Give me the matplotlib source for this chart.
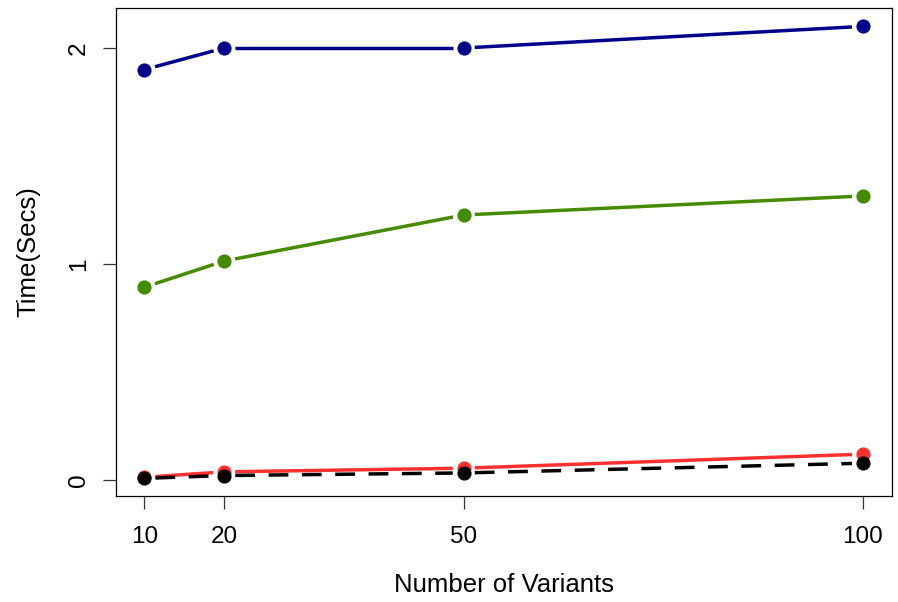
import matplotlib
matplotlib.use("Agg")
import matplotlib.pyplot as plt
import numpy as np

plt.rcParams['font.family'] = ['Liberation Sans', 'DejaVu Sans']

# data
variants = [10, 20, 50, 100]
time_blue = [1.90, 2.00, 2.00, 2.10]
time_green = [0.893, 1.014, 1.227, 1.315]
time_red = [0.013, 0.038, 0.055, 0.120]
time_black = [0.008, 0.021, 0.033, 0.078]

series = [
    (time_blue, '#00008B', '-'),
    (time_green, '#458B00', '-'),
    (time_red, '#FF3030', '-'),
    (time_black, 'black', (0, (5.7, 3.9))),
]

GAP = 11  # px between point centre and line end (R type="b")


def gapped_line(ax, xs, ys, color, ls):
    # draw each segment shortened at both ends, like R's type = "b"
    pts = ax.transData.transform(np.column_stack([xs, ys]))
    inv = ax.transData.inverted()
    for p0, p1 in zip(pts[:-1], pts[1:]):
        d = p1 - p0
        n = np.hypot(*d)
        if n <= 2 * GAP:
            continue
        u = d / n
        a = inv.transform(p0 + u * GAP)
        b = inv.transform(p1 - u * GAP)
        ax.plot([a[0], b[0]], [a[1], b[1]], color=color, linestyle=ls,
                linewidth=2.5, solid_capstyle='butt', dash_capstyle='butt')
    ax.plot(xs, ys, linestyle='none', marker='o', markersize=10.2,
            color=color, markeredgewidth=0)


fig = plt.figure(figsize=(8.98, 6.02), dpi=100)
ax = fig.add_axes([0.1288, 0.176, 0.993 - 0.1288, 0.9867 - 0.176])
ax.set_xlim(6.4, 103.6)
ax.set_ylim(-0.074, 2.185)

for ys, col, ls in series:
    gapped_line(ax, variants, ys, col, ls)

ax.set_xticks(variants)
ax.set_xticklabels([str(v) for v in variants])
ax.set_yticks([0, 1, 2])
ax.set_yticklabels(['0', '1', '2'], rotation=90, va='center')
ax.tick_params(axis='both', length=9.4, width=0.9, labelsize=17.5, color='#333333')
ax.tick_params(axis='x', pad=12)
ax.tick_params(axis='y', pad=9)
for s in ax.spines.values():
    s.set_linewidth(0.9)

ax.set_xlabel('Number of Variants', fontsize=18.5, labelpad=18)
ax.set_ylabel('Time(Secs)', fontsize=18.5, labelpad=20)

fig.savefig('out.png', dpi=100)
